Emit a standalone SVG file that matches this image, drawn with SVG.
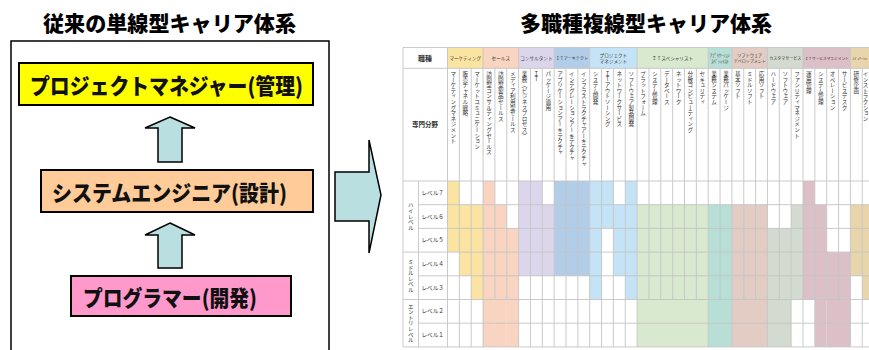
<svg xmlns="http://www.w3.org/2000/svg" width="869" height="350" viewBox="0 0 869 350">
<style>
.ttl{font-family:"Noto Sans CJK JP","Liberation Sans",sans-serif;font-weight:900;font-size:21px;fill:#000}
.box{stroke:#000;stroke-width:2}
.lbl{font-family:"Noto Sans CJK JP","Liberation Sans",sans-serif;font-weight:900;font-size:22px;fill:#111}
.arw{fill:#BADFE1;stroke:#000;stroke-width:1.5;stroke-linejoin:miter}
.t{font-family:"Noto Sans CJK JP","Liberation Sans",sans-serif;fill:#333}
.h{font-size:4.6px;text-anchor:middle}
.v{font-size:5.6px;writing-mode:vertical-rl;text-orientation:upright}
.lv{font-size:5.6px}
.gv{font-size:5.6px;writing-mode:vertical-rl;text-orientation:upright;text-anchor:middle}
.Y{fill:#FBE3A1}.S{fill:#F8D4C1}.P{fill:#DCD6EC}.B{fill:#B2CDE8}.L{fill:#C4E3F6}.G{fill:#D8E9CF}.T{fill:#B8DFD5}.R{fill:#E2CCC4}.Q{fill:#D3DAD0}.M{fill:#DCC0C8}.N{fill:#E8D5AC}
.gl{stroke:#C4C4C4;stroke-width:0.9;fill:none}
</style>

<!-- Left: conventional single-track -->
<text class="ttl" x="43" y="31" textLength="253" lengthAdjust="spacingAndGlyphs">従来の単線型キャリア体系</text>
<rect id="left-frame" x="11" y="41" width="318" height="330" fill="#fff" stroke="#000" stroke-width="1.5"/>

<g id="node-pm">
<rect class="box" x="19" y="63" width="294" height="42" fill="#FFFF00"/>
<text class="lbl" x="30" y="93.5" textLength="273" lengthAdjust="spacingAndGlyphs">プロジェクトマネジャー(管理)</text>
</g>
<g id="node-se">
<rect class="box" x="41" y="170" width="272" height="42" fill="#FFCC99"/>
<text class="lbl" x="52" y="201" textLength="235" lengthAdjust="spacingAndGlyphs">システムエンジニア(設計)</text>
</g>
<g id="node-pg">
<rect class="box" x="71" y="276" width="220" height="40" fill="#FF99CC"/>
<text class="lbl" x="83" y="306" textLength="174" lengthAdjust="spacingAndGlyphs">プログラマー(開発)</text>
</g>

<g id="connectors">
<polygon class="arw" points="170,117 195,128 182,128 182,162 158,162 158,128 145,128"/>
<polygon class="arw" points="170,223 195,235 182,235 182,268 158,268 158,235 145,235"/>
</g>

<g id="big-arrow">
<polygon class="arw" points="335,172 369,172 369,140 381,195 369,253 369,221 335,221"/>
</g>

<!-- Right: multi-track -->
<text class="ttl" x="520" y="31" textLength="252" lengthAdjust="spacingAndGlyphs">多職種複線型キャリア体系</text>

<g id="table">
<rect x="403" y="47.5" width="470" height="299.4" fill="#fff"/>
<!-- header fills -->
<rect class="Y" x="447.5" y="47.5" width="35.55" height="20.8"/>
<rect class="S" x="483.05" y="47.5" width="35.55" height="20.8"/>
<rect class="P" x="518.6" y="47.5" width="35.55" height="20.8"/>
<rect class="B" x="554.15" y="47.5" width="35.55" height="20.8"/>
<rect class="L" x="589.7" y="47.5" width="47.4" height="20.8"/>
<rect class="G" x="637.1" y="47.5" width="71.1" height="20.8"/>
<rect class="T" x="708.2" y="47.5" width="23.7" height="20.8"/>
<rect class="R" x="731.9" y="47.5" width="35.55" height="20.8"/>
<rect class="Q" x="767.45" y="47.5" width="35.55" height="20.8"/>
<rect class="M" x="803" y="47.5" width="47.4" height="20.8"/>
<rect class="N" x="850.4" y="47.5" width="23.7" height="20.8"/>

<!-- body fills -->
<rect class="Y" x="447.5" y="181" width="11.85" height="71.1"/>
<rect class="Y" x="459.35" y="204.7" width="11.85" height="71.1"/>
<rect class="Y" x="471.2" y="204.7" width="11.85" height="94.8"/>
<rect class="S" x="483.05" y="181" width="11.85" height="165.9"/>
<rect class="S" x="494.9" y="204.7" width="11.85" height="142.2"/>
<rect class="S" x="506.75" y="228.4" width="11.85" height="118.5"/>
<rect class="P" x="518.6" y="181" width="23.7" height="94.8"/>
<rect class="P" x="542.3" y="204.7" width="11.85" height="71.1"/>
<rect class="B" x="554.15" y="181" width="35.55" height="94.8"/>
<rect class="L" x="589.7" y="181" width="11.85" height="118.5"/>
<rect class="L" x="601.55" y="181" width="11.85" height="47.4"/>
<rect class="L" x="613.4" y="204.7" width="11.85" height="71.1"/>
<rect class="L" x="625.25" y="181" width="11.85" height="118.5"/>
<rect class="G" x="637.1" y="204.7" width="71.1" height="142.2"/>
<rect class="T" x="708.2" y="204.7" width="23.7" height="142.2"/>
<rect class="R" x="731.9" y="204.7" width="35.55" height="142.2"/>
<rect class="Q" x="767.45" y="228.4" width="23.7" height="118.5"/>
<rect class="Q" x="791.15" y="204.7" width="11.85" height="94.8"/>
<rect class="M" x="803" y="181" width="11.85" height="118.5"/>
<rect class="M" x="814.85" y="204.7" width="11.85" height="142.2"/>
<rect class="M" x="826.7" y="252.1" width="23.7" height="94.8"/>
<rect class="N" x="850.4" y="204.7" width="11.85" height="71.1"/>
<rect class="N" x="862.25" y="204.7" width="11.85" height="94.8"/>

<!-- grid: horizontal -->
<path class="gl" d="M403,47.5H869M403,68.3H869M403,181H869M418.5,204.7H869M418.5,228.4H869M403,252.1H869M418.5,275.8H869M403,299.5H869M418.5,323.2H869M403,346.9H869"/>
<!-- grid: vertical -->
<path class="gl" d="M403,47.5V346.9M447.5,47.5V346.9M418.5,181V346.9
M459.35,68.3V346.9M471.2,68.3V346.9M483.05,47.5V346.9M494.9,68.3V299.5M506.75,68.3V299.5M518.6,47.5V346.9
M530.45,68.3V346.9M542.3,68.3V346.9M554.15,47.5V346.9M566,68.3V346.9M577.85,68.3V346.9M589.7,47.5V346.9
M601.55,68.3V346.9M613.4,68.3V346.9M625.25,68.3V346.9M637.1,47.5V346.9
M648.95,68.3V299.5M660.8,68.3V299.5M672.65,68.3V299.5M684.5,68.3V299.5M696.35,68.3V299.5M708.2,47.5V346.9
M720.05,68.3V299.5M731.9,47.5V346.9M743.75,68.3V299.5M755.6,68.3V299.5M767.45,47.5V346.9
M779.3,68.3V299.5M791.15,68.3V346.9M803,47.5V346.9M814.85,68.3V346.9M826.7,68.3V299.5M838.55,68.3V299.5M850.4,47.5V346.9M862.25,68.3V346.9"/>

<!-- header texts -->
<text class="t" x="425" y="60.5" font-size="7" font-weight="700" text-anchor="middle">職種</text>
<text class="t h" x="465.3" y="59.6">マーケティング</text>
<text class="t h" x="500.8" y="59.6">セールス</text>
<text class="t h" x="536.4" y="59.6">コンサルタント</text>
<text class="t h" x="571.9" y="59.6" style="font-size:4.1px">ＩＴアーキテクト</text>
<text class="t h" x="613.4" y="56.5">プロジェクト</text>
<text class="t h" x="613.4" y="63.2">マネジメント</text>
<text class="t h" x="672.6" y="59.6">ＩＴスペシャリスト</text>
<text class="t h" x="720" y="56.5" style="font-size:4.4px">ｱﾌﾟﾘｹｰｼｮﾝ</text>
<text class="t h" x="720" y="63.2" style="font-size:4.4px">ｽﾍﾟｼｬﾘｽﾄ</text>
<text class="t h" x="749.7" y="56.5" style="font-size:4.2px">ソフトウェア</text>
<text class="t h" x="749.7" y="63.2" style="font-size:4px">デベロップメント</text>
<text class="t h" x="785.2" y="59.6" style="font-size:4px">カスタマサービス</text>
<text class="t h" x="826.7" y="59.6" style="font-size:3.7px">ＩＴサービスマネジメント</text>
<text class="t h" x="860" y="59.6" style="font-size:3.2px">ｴﾃﾞｭｹｰｼｮﾝ</text>

<text class="t" x="425" y="127" font-size="6.5" font-weight="700" text-anchor="middle">専門分野</text>

<!-- specialties (vertical) -->
<text class="t v" x="453.4" y="71">マーケティングマネジメント</text>
<text class="t v" x="465.3" y="71">販売チャネル戦略</text>
<text class="t v" x="477.1" y="71">マーケットコミュニケーション</text>
<text class="t v" x="489" y="71">訪問型コンサルティングセールス</text>
<text class="t v" x="500.8" y="71">訪問型製品セールス</text>
<text class="t v" x="512.7" y="71">メディア利用型セールス</text>
<text class="t v" x="524.5" y="71">業務（ビジネスプロセス）</text>
<text class="t v" x="536.4" y="71">ＩＴ</text>
<text class="t v" x="548.2" y="71">パッケージ適用</text>
<text class="t v" x="560.1" y="71">アプリケーションアーキテクチャ</text>
<text class="t v" x="571.9" y="71">インテグレーションアーキテクチャ</text>
<text class="t v" x="583.8" y="71">インフラストラクチャアーキテクチャ</text>
<text class="t v" x="595.6" y="71">システム開発</text>
<text class="t v" x="607.5" y="71">ＩＴアウトソーシング</text>
<text class="t v" x="619.3" y="71">ネットワークサービス</text>
<text class="t v" x="631.2" y="71">ソフトウェア製品開発</text>
<text class="t v" x="643" y="71">プラットフォーム</text>
<text class="t v" x="654.9" y="71">システム管理</text>
<text class="t v" x="666.7" y="71">データベース</text>
<text class="t v" x="678.6" y="71">ネットワーク</text>
<text class="t v" x="690.4" y="71">分散コンピューティング</text>
<text class="t v" x="702.3" y="71">セキュリティ</text>
<text class="t v" x="714.1" y="71">業務システム</text>
<text class="t v" x="726" y="71">業務パッケージ</text>
<text class="t v" x="737.8" y="71">基本ソフト</text>
<text class="t v" x="749.7" y="71">ミドルソフト</text>
<text class="t v" x="761.5" y="71">応用ソフト</text>
<text class="t v" x="773.4" y="71">ハードウェア</text>
<text class="t v" x="785.2" y="71">ソフトウェア</text>
<text class="t v" x="797.1" y="71">ファシリティマネジメント</text>
<text class="t v" x="808.9" y="71">運用管理</text>
<text class="t v" x="820.8" y="71">システム管理</text>
<text class="t v" x="832.6" y="71">オペレーション</text>
<text class="t v" x="844.5" y="71">サービスデスク</text>
<text class="t v" x="856.3" y="71">研修企画</text>
<text class="t v" x="865.5" y="71">インストラクション</text>

<!-- level labels -->
<text class="t lv" x="421.5" y="194.8">レベル７</text>
<text class="t lv" x="421.5" y="218.5">レベル６</text>
<text class="t lv" x="421.5" y="242.2">レベル５</text>
<text class="t lv" x="421.5" y="265.9">レベル４</text>
<text class="t lv" x="421.5" y="289.6">レベル３</text>
<text class="t lv" x="421.5" y="313.3">レベル２</text>
<text class="t lv" x="421.5" y="337">レベル１</text>
<text class="t gv" x="410.8" y="216.5">ハイレベル</text>
<text class="t gv" x="410.8" y="275.8">ミドルレベル</text>
<text class="t gv" x="410.8" y="323.2">エントリレベル</text>
</g>
</svg>
